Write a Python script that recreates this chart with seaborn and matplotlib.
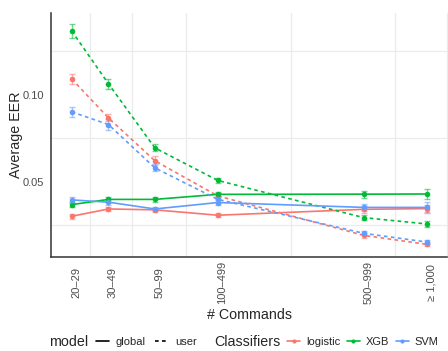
import numpy as np
import pandas as pd
import matplotlib
matplotlib.use('Agg')
import matplotlib.pyplot as plt
import matplotlib.transforms as mtransforms
from matplotlib.lines import Line2D
from matplotlib.ticker import FixedLocator, NullFormatter
import seaborn as sns

# Dados
commands = [20, 30, 50, 100, 500, 1000]
command_labels = ['20–29', '30–49', '50–99', '100–499', '500–999', '≥ 1,000']
classifiers = ['logistic', 'XGB', 'SVM']
models = ['global', 'user']

global_logistic = [0.0303, 0.0345, 0.0340, 0.0309, 0.0343, 0.0347]
global_xgb = [0.0370, 0.0400, 0.0400, 0.0429, 0.0430, 0.0431]
global_svm = [0.0397, 0.0384, 0.0345, 0.0382, 0.0354, 0.0354]
user_logistic = [0.1092, 0.0868, 0.0622, 0.0420, 0.0193, 0.0142]
user_xgb = [0.1368, 0.1064, 0.0696, 0.0509, 0.0295, 0.0259]
user_svm = [0.0903, 0.0830, 0.0581, 0.0400, 0.0205, 0.0155]

err_global_logistic = [0.0015, 0.0010, 0.0010, 0.0010, 0.0020, 0.0020]
err_global_xgb = [0.0015, 0.0015, 0.0015, 0.0012, 0.0020, 0.0030]
err_global_svm = [0.0015, 0.0015, 0.0012, 0.0012, 0.0020, 0.0030]
err_user_logistic = [0.0030, 0.0020, 0.0025, 0.0015, 0.0012, 0.0010]
err_user_xgb = [0.0040, 0.0030, 0.0020, 0.0015, 0.0015, 0.0015]
err_user_svm = [0.0030, 0.0030, 0.0020, 0.0015, 0.0012, 0.0010]

values = {
    ('global', 'logistic'): (global_logistic, err_global_logistic),
    ('global', 'XGB'): (global_xgb, err_global_xgb),
    ('global', 'SVM'): (global_svm, err_global_svm),
    ('user', 'logistic'): (user_logistic, err_user_logistic),
    ('user', 'XGB'): (user_xgb, err_user_xgb),
    ('user', 'SVM'): (user_svm, err_user_svm),
}

rows = []
for (model, clf), (eer, err) in values.items():
    for c, e, s in zip(commands, eer, err):
        rows.append({'commands': c, 'classifier': clf, 'model': model, 'eer': e, 'err': s})
df = pd.DataFrame(rows)

palette = {'logistic': '#F8766D', 'XGB': '#00BA38', 'SVM': '#619CFF'}

sns.set_theme(style='white')
plt.rcParams['font.family'] = ['Liberation Sans', 'DejaVu Sans']

fig = plt.figure(figsize=(4.48, 3.51), dpi=100)
ax = fig.add_axes([51 / 448, 1 - 257 / 351, 396 / 448, 244 / 351])

# barras de erro
for (model, clf), g in df.groupby(['model', 'classifier']):
    ax.errorbar(g['commands'], g['eer'], yerr=g['err'], fmt='none',
                ecolor=palette[clf], alpha=0.55, capsize=2.5, elinewidth=1.0,
                capthick=1.0, zorder=2)

sns.lineplot(data=df, x='commands', y='eer', hue='classifier', style='model',
             hue_order=classifiers, style_order=models, palette=palette,
             dashes={'global': '', 'user': (2.2, 2.0)},
             markers={'global': 'o', 'user': 'o'}, markersize=4,
             markeredgewidth=0, linewidth=1.2, legend=False, ax=ax,
             errorbar=None, zorder=3)

ax.set_xscale('log')
ax.set_xlim(10 ** 1.202, 10 ** 3.097)
ax.set_ylim(0.0069, 0.1471)
ax.set_xticks(commands)
ax.set_xticklabels(command_labels)
ax.xaxis.set_minor_locator(FixedLocator(np.sqrt(np.array(commands[:-1]) * np.array(commands[1:]))))
ax.xaxis.set_minor_formatter(NullFormatter())
ax.set_yticks([0.05, 0.10])
ax.set_yticklabels(['0.05', '0.10'])
ax.yaxis.set_minor_locator(FixedLocator([0.025, 0.075, 0.125]))

ax.grid(False, which='major')
ax.grid(True, which='minor', color='#EBEBEB', linewidth=0.9)
ax.set_axisbelow(True)

ax.spines['top'].set_visible(False)
ax.spines['right'].set_color('#EBEBEB')
ax.spines['right'].set_linewidth(0.9)
for side in ['left', 'bottom']:
    ax.spines[side].set_color('#333333')
    ax.spines[side].set_linewidth(1.1)

ax.tick_params(which='major', length=3.2, width=0.9, color='#333333',
               labelcolor='#4D4D4D', labelsize=8)
ax.tick_params(which='minor', length=0)
ax.tick_params(axis='y', pad=1.5)
ax.tick_params(axis='x', pad=15)

offset = mtransforms.ScaledTranslation(4.5 / 100, 0, fig.dpi_scale_trans)
for lab in ax.get_xticklabels():
    lab.set_rotation(90)
    lab.set_va('center')
    lab.set_ha('center')
    lab.set_transform(lab.get_transform() + offset)

ax.set_xlabel('# Commands', fontsize=10.3, va='center')
ax.xaxis.set_label_coords(0.5, (257 - 315) / 244)
ax.set_ylabel('Average EER', fontsize=10.3, va='center')
ax.yaxis.set_label_coords((16.5 - 51) / 396, 0.5)

# legendas embaixo
ly = 1 - 342 / 351
fig.text(49 / 448, ly, 'model', fontsize=10.3, va='center', ha='left')
h_model = [Line2D([], [], color='black', lw=1.2, ls='-'),
           Line2D([], [], color='black', lw=1.2, ls=(0, (2.2, 2.0)))]
fig.legend(h_model, ['global', 'user'], loc='center left',
           bbox_to_anchor=(96 / 448, ly), ncol=2, frameon=False, fontsize=8,
           handlelength=1.2, handletextpad=0.6, columnspacing=0.8,
           borderpad=0, borderaxespad=0)

fig.text(214 / 448, ly, 'Classifiers', fontsize=10.3, va='center', ha='left')
h_clf = [Line2D([], [], color=palette[c], lw=1.2, marker='o', markersize=3,
                markeredgewidth=0) for c in classifiers]
fig.legend(h_clf, classifiers, loc='center left',
           bbox_to_anchor=(287 / 448, ly), ncol=3, frameon=False, fontsize=8,
           handlelength=1.2, handletextpad=0.5, columnspacing=0.6,
           borderpad=0, borderaxespad=0)

fig.savefig('out.png', dpi=100)
